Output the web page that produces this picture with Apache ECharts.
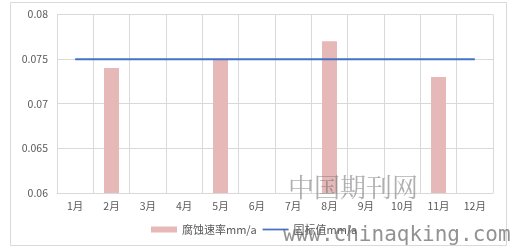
<!DOCTYPE html>
<html>
<head>
<meta charset="utf-8">
<script src="https://cdn.jsdelivr.net/npm/echarts@6/dist/echarts.min.js"></script>
<style>
  html, body { margin: 0; padding: 0; background: #fff; }
  #chart { width: 515px; height: 248px; }
</style>
</head>
<body>
<div id="chart"></div>
<script>
// Monthly categories
const months = ['1月', '2月', '3月', '4月', '5月', '6月', '7月', '8月', '9月', '10月', '11月', '12月'];
// Measured corrosion rate (mm/a); months without measurement are null
const corrosionRate = [null, 0.074, null, null, 0.075, null, null, 0.077, null, null, 0.073, null];
// National standard limit (mm/a)
const standardLimit = [0.075, 0.075, 0.075, 0.075, 0.075, 0.075, 0.075, 0.075, 0.075, 0.075, 0.075, 0.075];
// Value axis range
const yMin = 0.06, yMax = 0.08, yStep = 0.005;

const chart = echarts.init(document.getElementById('chart'), null, { renderer: 'canvas' });
const labelColor = '#595959';
const gridColor = '#d9d9d9';
const font = '"Noto Sans CJK SC", "Noto Sans", sans-serif';

chart.setOption({
  backgroundColor: '#fff',
  animation: false,
  graphic: [
    {
      type: 'rect',
      shape: { x: 10.5, y: 2.5, width: 496, height: 243 },
      style: { fill: 'none', stroke: '#d9d9d9', lineWidth: 1 },
      z: -1
    },
    {
      type: 'text',
      left: 288, top: 174,
      style: { text: '中国期刊网', font: '26px "Noto Serif CJK SC", "Noto Sans CJK SC", serif', fill: 'rgba(110,110,110,0.55)' },
      z: 100
    },
    {
      type: 'text',
      left: 283, top: 225,
      style: { text: 'www.chinaqking.com', font: '21px "DejaVu Sans Mono", "Liberation Mono", monospace', fill: 'rgba(100,100,100,0.7)' },
      z: 100
    }
  ],
  grid: { left: 57, right: 22, top: 14.5, bottom: 55 },
  legend: {
    bottom: 8,
    left: 146,
    itemGap: 6,
    textStyle: { color: labelColor, fontSize: 11, fontFamily: font },
    data: [
      { name: '腐蚀速率mm/a', icon: 'rect', itemStyle: { color: '#e6b9b8' } },
      { name: '国标值mm/a', icon: 'path://M0,0 L30,0 L30,2 L0,2 Z', itemStyle: { color: '#4472c4' } }
    ],
    itemWidth: 26,
    itemHeight: 6
  },
  xAxis: {
    type: 'category',
    data: months,
    boundaryGap: true,
    axisLine: { show: true, lineStyle: { color: gridColor } },
    axisTick: { show: false },
    splitLine: { show: true, lineStyle: { color: gridColor } },
    axisLabel: { color: labelColor, fontSize: 10.5, fontFamily: font, margin: 8, interval: 0 }
  },
  yAxis: {
    type: 'value',
    min: yMin,
    max: yMax,
    interval: yStep,
    axisLine: { show: true, lineStyle: { color: gridColor } },
    axisTick: { show: false },
    splitLine: { show: true, lineStyle: { color: gridColor } },
    axisLabel: {
      color: labelColor, fontSize: 10.5, fontFamily: font, margin: 9,
      formatter: v => String(+v.toFixed(3))
    }
  },
  series: [
    {
      name: '腐蚀速率mm/a',
      type: 'bar',
      data: corrosionRate,
      barWidth: 15,
      itemStyle: { color: '#e6b9b8' },
      z: 2
    },
    {
      name: '国标值mm/a',
      type: 'line',
      data: standardLimit,
      symbol: 'none',
      lineStyle: { color: '#4472c4', width: 2 },
      itemStyle: { color: '#4472c4' },
      z: 3
    }
  ]
});
</script>
</body>
</html>
